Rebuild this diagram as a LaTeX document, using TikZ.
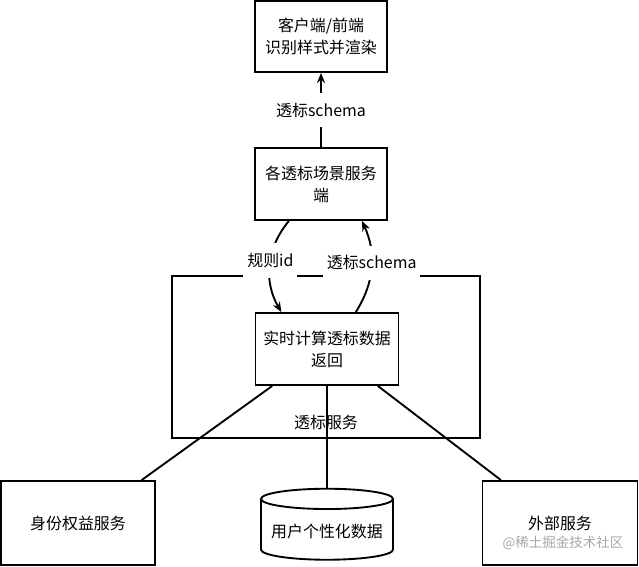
\documentclass[tikz,border=0pt]{standalone}
\usepackage{fontspec}
\setmainfont{Noto Sans CJK SC}
\usetikzlibrary{arrows.meta,shapes.geometric}

\begin{document}
\begin{tikzpicture}[node distance=1cm, line width=1.6pt,
    >={Stealth[length=0.3cm,width=0.24cm]},
    font=\fontsize{13.6}{18.8}\selectfont,
    box/.style={rectangle, draw, align=center, minimum width=3.96cm, minimum height=2.16cm},
    lbl/.style={fill=white, inner xsep=0.12cm, inner ysep=0.3cm}]
    \useasboundingbox (0,0) rectangle (19.17,-17.01);

    % Client
    \node (client) [box, minimum height=2.13cm] at (9.63,-1.095) {客户端/前端\\识别样式并渲染};
    \node (scene) [box, below of=client, yshift=-3.425cm] {各透标场景服务\\端};

    % Service
    \node (svc) [rectangle, draw, below of=scene, xshift=0.15cm, yshift=-4.19cm, minimum width=9.24cm, minimum height=4.86cm] {};
    \node (calc) [box, below of=scene, xshift=0.18cm, yshift=-3.95cm, minimum width=4.29cm] {实时计算透标数据\\返回};
    \node (svctxt) at ([yshift=0.48cm]svc.south) {透标服务};

    % Sources
    \node (data) [cylinder, draw, shape border rotate=90, aspect=0.17, below of=calc, yshift=-4.475cm, minimum width=3.96cm, minimum height=2.13cm, align=center] {用户个性化数据};
    \node (idsvc) [box, left of=data, xshift=-6.47cm, yshift=0.255cm, minimum width=4.62cm, minimum height=2.52cm] {身份权益服务};
    \node (ext) [box, right of=data, xshift=5.99cm, yshift=0.255cm, minimum width=4.65cm, minimum height=2.52cm] {外部服务};
    \node (mark) [text=black!35, font=\fontsize{11.5}{14}\selectfont] at (16.89,-16.29) {@稀土掘金技术社区};

    % Arrows
    \draw[->] (scene) -- node[lbl] (toplbl) {透标schema} (client);
    \draw[->] (scene.229) to[bend right=35] node[lbl, pos=0.45] (ruleid) {规则id} (calc.141);
    \draw[->] (calc.52) to[bend right=28] node[lbl, pos=0.55] (backlbl) {透标schema} (scene.-42);
    \draw (calc.214) -- (idsvc.34);
    \draw (calc) -- (data);
    \draw (calc.-36) -- (ext.144);
\end{tikzpicture}
\end{document}
